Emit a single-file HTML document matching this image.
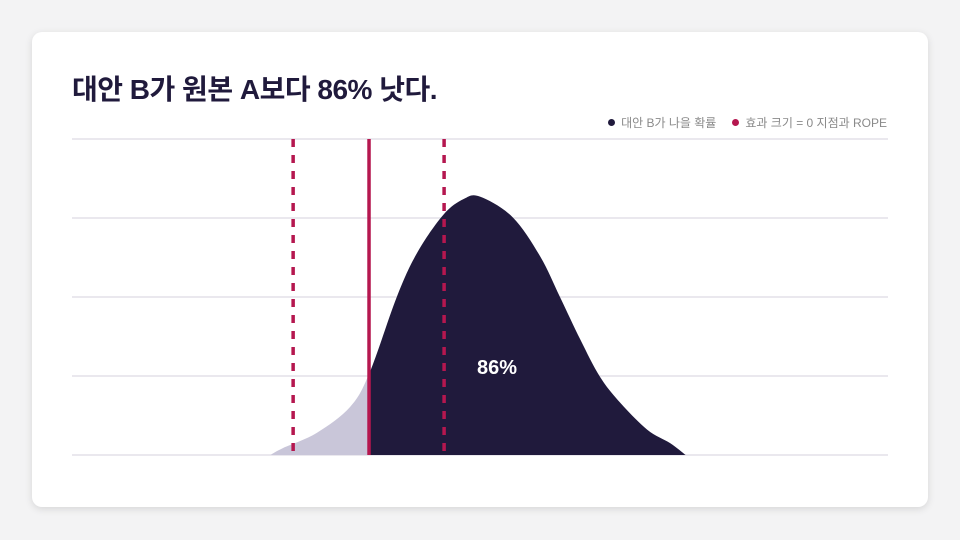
<!DOCTYPE html>
<html><head><meta charset="utf-8"><style>
body{margin:0;width:960px;height:540px;background:#f3f3f4;font-family:"Liberation Sans","Noto Sans CJK KR",sans-serif;overflow:hidden}
.card{position:absolute;left:32px;top:32px;width:896px;height:475px;background:#fff;border-radius:10px;box-shadow:0 2px 8px rgba(0,0,0,0.12)}
h1{position:absolute;left:72px;top:68px;margin:0;font-size:28px;font-weight:bold;color:#201a3c;letter-spacing:-0.5px}
.legend{position:absolute;right:73px;top:114px;font-size:12px;color:#8a8a8a;display:flex;gap:16px}
.legend span{display:flex;align-items:center;gap:6px}
.dot{width:7px;height:7px;border-radius:50%;display:inline-block}
svg{position:absolute;left:0;top:0}
</style></head><body>
<div class="card"></div>
<h1>대안 B가 원본 A보다 86% 낫다.</h1>
<div class="legend">
<span><i class="dot" style="background:#201a3c"></i>대안 B가 나을 확률</span>
<span><i class="dot" style="background:#b5174f"></i>효과 크기 = 0 지점과 ROPE</span>
</div>
<svg id="chart" width="960" height="540"></svg>
<script>
const xs=[24.3,25.9,30.0,34.1,36.5,39.8,42.3,45.5,48.0,50.0,54.0,57.4,59.8,62.3,64.7,67.2,70.5,73.3,75.2];
const ys=[0,0.09,0.28,0.61,1.05,2.00,2.56,3.04,3.24,3.27,3.01,2.51,2.00,1.46,0.99,0.66,0.32,0.15,0];
const zeroX=36.4;
const ropeX=[27.1,45.6];
const gridTicks=[0,1,2,3,4];
const probLabel="86%";
const NS="http://www.w3.org/2000/svg";
const svg=document.getElementById('chart');
const X=v=>72+(v/100)*816;
const Y=v=>455-v*79;
function mk(t,a){const e=document.createElementNS(NS,t);for(const k in a)e.setAttribute(k,a[k]);svg.appendChild(e);return e;}
gridTicks.forEach(t=>{
 const l=mk('line',{x1:72,x2:888,y1:Y(t),y2:Y(t),stroke:'#d4d2dc','stroke-width':1});
 
 
});
const P=xs.map((x,i)=>[X(x),Y(ys[i])]);
let d=`M${P[0][0]},${P[0][1]}`;
for(let i=0;i<P.length-1;i++){const p0=P[i-1]||P[i],p1=P[i],p2=P[i+1],p3=P[i+2]||P[i+1];
 d+=` C${p1[0]+(p2[0]-p0[0])/6},${p1[1]+(p2[1]-p0[1])/6} ${p2[0]-(p3[0]-p1[0])/6},${p2[1]-(p3[1]-p1[1])/6} ${p2[0]},${p2[1]}`;}
d+=` L${P[P.length-1][0]},455 L${P[0][0]},455 Z`;
const defs=mk('defs',{});
const c1=document.createElementNS(NS,'clipPath');c1.id='cl';defs.appendChild(c1);
const r1=document.createElementNS(NS,'rect');r1.setAttribute('x',0);r1.setAttribute('y',0);r1.setAttribute('width',X(zeroX));r1.setAttribute('height',540);c1.appendChild(r1);
const c2=document.createElementNS(NS,'clipPath');c2.id='cr';defs.appendChild(c2);
const r2=document.createElementNS(NS,'rect');r2.setAttribute('x',X(zeroX));r2.setAttribute('y',0);r2.setAttribute('width',960);r2.setAttribute('height',540);c2.appendChild(r2);
const a1=mk('path',{d:d,fill:'#c9c6d9','clip-path':'url(#cl)'});


const a2=mk('path',{d:d,fill:'#201a3c','clip-path':'url(#cr)'});


ropeX.forEach(v=>{
 const l=mk('line',{x1:X(v),x2:X(v),y1:139,y2:455,stroke:'#b5174f','stroke-width':3.5,'stroke-dasharray':'8 8'});
 
 
});
const z=mk('line',{x1:X(zeroX),x2:X(zeroX),y1:139,y2:455,stroke:'#b5174f','stroke-width':3.5});


const t=mk('text',{x:497,y:374,'text-anchor':'middle',fill:'#fff','font-size':20,'font-weight':'bold','font-family':'"Liberation Sans","Noto Sans CJK KR",sans-serif'});
t.textContent=probLabel;


</script>
</body></html>
